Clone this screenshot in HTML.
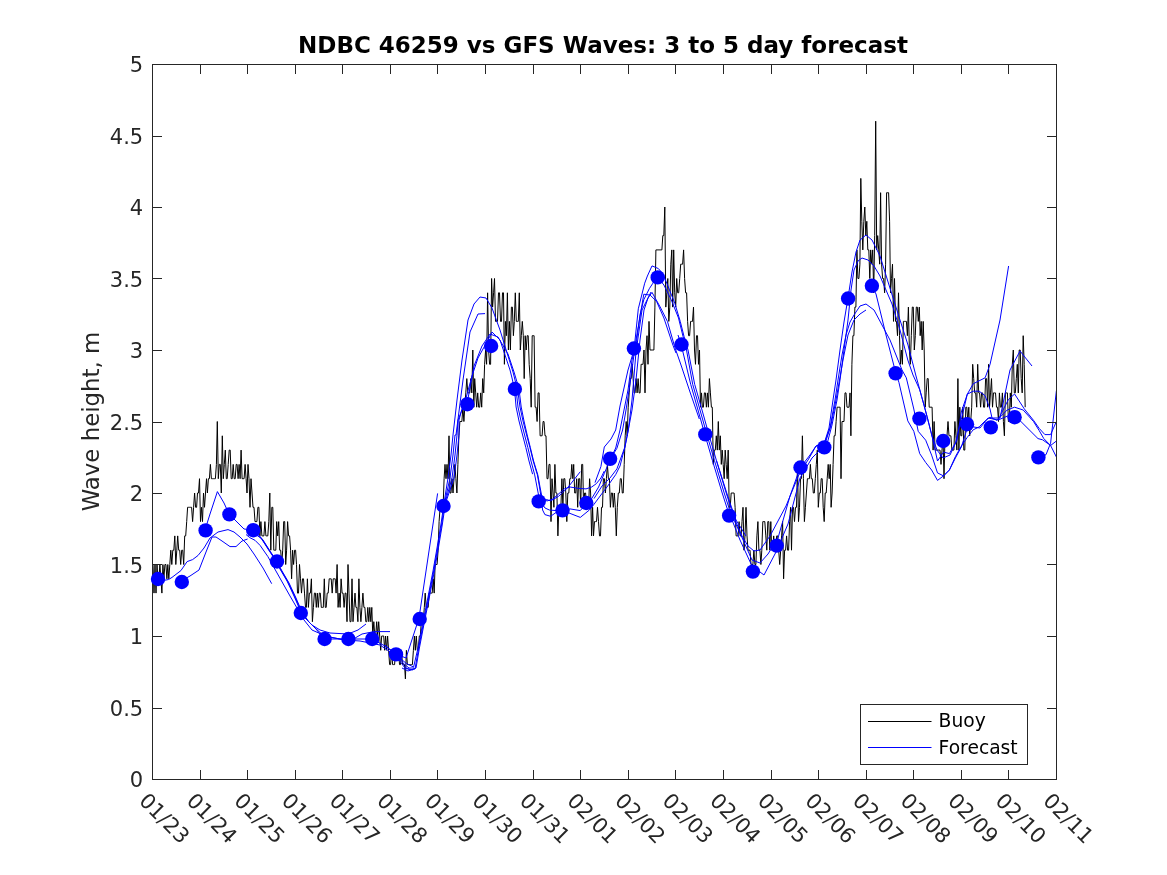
<!DOCTYPE html>
<html><head><meta charset="utf-8"><title>NDBC 46259 vs GFS Waves</title>
<style>
html,body{margin:0;padding:0;background:#fff;}
svg{display:block;will-change:transform;}
text{font-family:'DejaVu Sans', 'Liberation Sans', sans-serif;}
</style></head><body>
<svg width="1167" height="875" viewBox="0 0 1167 875">
<rect width="1167" height="875" fill="#ffffff"/>
<g clip-path="url(#clipax)">
<path d="M152 564.5 153 564.5 154 593.1 155 564.5 156 593.1 157 564.5 157.9 578.8 158.9 578.8 159.9 564.5 160.9 578.8 161.9 593.1 162.9 564.5 163.9 578.8 164.9 564.5 165.9 564.5 166.9 578.8 167.8 564.5 168.8 578.8 169.8 564.5 170.8 550.2 171.8 564.5 172.8 550.2 173.8 550.2 174.8 535.9 175.8 564.5 176.8 550.2 177.7 535.9 178.7 550.2 179.7 550.2 180.7 564.5 181.7 550.2 182.7 550.2 183.7 564.5 184.7 535.9 185.7 535.9 186.7 521.6 187.6 507.3 188.6 507.3 189.6 507.3 190.6 507.3 191.6 507.3 192.6 521.6 193.6 507.3 194.6 493 195.6 507.3 196.6 507.3 197.5 493 198.5 493 199.5 478.7 200.5 521.6 201.5 507.3 202.5 521.6 203.5 493 204.5 507.3 205.5 493 206.5 478.7 207.4 493 208.4 478.7 209.4 478.7 210.4 464.4 211.4 478.7 212.4 478.7 213.4 478.7 214.4 478.7 215.4 478.7 216.4 464.4 217.3 421.5 218.3 478.7 219.3 464.4 220.3 464.4 221.3 493 222.3 435.8 223.3 478.7 224.3 464.4 225.3 450.1 226.3 478.7 227.2 478.7 228.2 464.4 229.2 450.1 230.2 450.1 231.2 478.7 232.2 478.7 233.2 464.4 234.2 478.7 235.2 478.7 236.2 464.4 237.1 464.4 238.1 478.7 239.1 464.4 240.1 478.7 241.1 450.1 242.1 478.7 243.1 478.7 244.1 478.7 245.1 464.4 246.1 478.7 247 493 248 464.4 249 478.7 250 507.3 251 478.7 252 493 253 507.3 254 507.3 255 521.6 256 521.6 256.9 521.6 257.9 507.3 258.9 507.3 259.9 535.9 260.9 521.6 261.9 535.9 262.9 535.9 263.9 535.9 264.9 521.6 265.9 535.9 266.8 535.9 267.8 535.9 268.8 521.6 269.8 493 270.8 550.2 271.8 507.3 272.8 507.3 273.8 550.2 274.8 550.2 275.8 550.2 276.7 521.6 277.7 535.9 278.7 521.6 279.7 550.2 280.7 550.2 281.7 564.5 282.7 550.2 283.7 521.6 284.7 521.6 285.7 564.5 286.6 550.2 287.6 521.6 288.6 535.9 289.6 535.9 290.6 550.2 291.6 578.8 292.6 550.2 293.6 564.5 294.6 550.2 295.6 550.2 296.5 564.5 297.5 593.1 298.5 593.1 299.5 564.5 300.5 578.8 301.5 593.1 302.5 578.8 303.5 578.8 304.5 593.1 305.5 607.4 306.4 607.4 307.4 578.8 308.4 607.4 309.4 593.1 310.4 593.1 311.4 578.8 312.4 621.7 313.4 607.4 314.4 593.1 315.4 593.1 316.3 607.4 317.3 593.1 318.3 607.4 319.3 593.1 320.3 593.1 321.3 607.4 322.3 607.4 323.3 607.4 324.3 578.8 325.3 607.4 326.2 607.4 327.2 593.1 328.2 593.1 329.2 578.8 330.2 578.8 331.2 578.8 332.2 593.1 333.2 578.8 334.2 578.8 335.2 578.8 336.1 593.1 337.1 564.5 338.1 607.4 339.1 593.1 340.1 607.4 341.1 578.8 342.1 593.1 343.1 593.1 344.1 607.4 345.1 593.1 346 593.1 347 621.7 348 564.5 349 593.1 350 621.7 351 621.7 352 578.8 353 621.7 354 607.4 355 593.1 355.9 607.4 356.9 607.4 357.9 621.7 358.9 578.8 359.9 607.4 360.9 621.7 361.9 607.4 362.9 593.1 363.9 607.4 364.9 607.4 365.8 621.7 366.8 621.7 367.8 607.4 368.8 621.7 369.8 607.4 370.8 621.7 371.8 607.4 372.8 636 373.8 621.7 374.8 636 375.7 636 376.7 621.7 377.7 636 378.7 621.7 379.7 636 380.7 650.3 381.7 636 382.7 636 383.7 636 384.7 650.3 385.6 636 386.6 650.3 387.6 636 388.6 650.3 389.6 664.6 390.6 664.6 391.6 650.3 392.6 664.6 393.6 664.6 394.6 664.6 395.5 650.3 396.5 650.3 397.5 650.3 398.5 650.3 399.5 664.6 400.5 664.6 401.5 650.3 402.5 664.6 403.5 664.6 404.5 664.6 405.4 678.9 406.4 650.3 407.4 664.6 408.4 664.6 409.4 664.6 410.4 664.6 411.4 664.6 412.4 664.6 413.4 650.3 414.4 636 415.3 650.3 416.3 636 417.3 650.3 418.3 650.3 419.3 636 420.3 636 421.3 621.7 422.3 621.7 423.3 621.7 424.3 607.4 425.2 593.1 426.2 607.4 427.2 607.4 428.2 607.4 429.2 593.1 430.2 593.1 431.2 593.1 432.2 593.1 433.2 578.8 434.2 593.1 435.1 564.5 436.1 564.5 437.1 564.5 438.1 550.2 439.1 521.6 440.1 507.3 441.1 507.3 442.1 507.3 443.1 507.3 444.1 478.7 445 464.4 446 478.7 447 464.4 448 478.7 449 435.8 450 493 451 493 452 478.7 453 493 454 478.7 454.9 464.4 455.9 478.7 456.9 493 457.9 464.4 458.9 435.8 459.9 421.5 460.9 421.5 461.9 421.5 462.9 407.2 463.9 421.5 464.8 407.2 465.8 392.9 466.8 378.6 467.8 392.9 468.8 392.9 469.8 392.9 470.8 378.6 471.8 392.9 472.8 350 473.8 407.2 474.7 378.6 475.7 392.9 476.7 407.2 477.7 392.9 478.7 407.2 479.7 407.2 480.7 392.9 481.7 407.2 482.7 378.6 483.7 392.9 484.6 364.3 485.6 350 486.6 364.3 487.6 292.8 488.6 350 489.6 364.3 490.6 364.3 491.6 278.5 492.6 307.1 493.6 292.8 494.5 278.5 495.5 321.4 496.5 321.4 497.5 321.4 498.5 292.8 499.5 292.8 500.5 321.4 501.5 321.4 502.5 292.8 503.5 292.8 504.4 364.3 505.4 321.4 506.4 335.7 507.4 292.8 508.4 350 509.4 321.4 510.4 350 511.4 307.1 512.4 307.1 513.4 335.7 514.3 321.4 515.3 292.8 516.3 321.4 517.3 321.4 518.3 321.4 519.3 292.8 520.3 350 521.3 335.7 522.3 321.4 523.3 335.7 524.2 378.6 525.2 335.7 526.2 350 527.2 335.7 528.2 335.7 529.2 364.3 530.2 378.6 531.2 407.2 532.2 335.7 533.2 335.7 534.1 335.7 535.1 407.2 536.1 407.2 537.1 421.5 538.1 392.9 539.1 392.9 540.1 435.8 541.1 435.8 542.1 435.8 543.1 421.5 544 421.5 545 435.8 546 435.8 547 478.7 548 478.7 549 464.4 550 464.4 551 521.6 552 478.7 553 493 553.9 507.3 554.9 464.4 555.9 493 556.9 493 557.9 535.9 558.9 507.3 559.9 507.3 560.9 507.3 561.9 478.7 562.9 507.3 563.8 478.7 564.8 478.7 565.8 493 566.8 521.6 567.8 493 568.8 493 569.8 478.7 570.8 478.7 571.8 464.4 572.8 478.7 573.7 464.4 574.7 493 575.7 493 576.7 478.7 577.7 507.3 578.7 478.7 579.7 478.7 580.7 507.3 581.7 464.4 582.7 464.4 583.6 507.3 584.6 493 585.6 493 586.6 507.3 587.6 507.3 588.6 507.3 589.6 478.7 590.6 493 591.6 535.9 592.6 507.3 593.5 535.9 594.5 521.6 595.5 521.6 596.5 521.6 597.5 507.3 598.5 521.6 599.5 535.9 600.5 535.9 601.5 507.3 602.5 507.3 603.4 478.7 604.4 478.7 605.4 493 606.4 478.7 607.4 464.4 608.4 478.7 609.4 478.7 610.4 507.3 611.4 493 612.4 493 613.3 507.3 614.3 493 615.3 507.3 616.3 535.9 617.3 507.3 618.3 493 619.3 493 620.3 478.7 621.3 478.7 622.3 493 623.2 493 624.2 464.4 625.2 435.8 626.2 421.5 627.2 435.8 628.2 407.2 629.2 392.9 630.2 378.6 631.2 378.6 632.2 364.3 633.1 378.6 634.1 392.9 635.1 392.9 636.1 378.6 637.1 392.9 638.1 378.6 639.1 392.9 640.1 392.9 641.1 364.3 642.1 364.3 643 364.3 644 350 645 392.9 646 350 647 335.7 648 364.3 649 321.4 650 350 651 350 652 350 652.9 350 653.9 350 654.9 307.1 655.9 249.9 656.9 249.9 657.9 249.9 658.9 249.9 659.9 249.9 660.9 249.9 661.9 249.9 662.8 235.6 663.8 235.6 664.8 207 665.8 307.1 666.8 292.8 667.8 278.5 668.8 321.4 669.8 307.1 670.8 264.2 671.8 249.9 672.7 307.1 673.7 249.9 674.7 292.8 675.7 307.1 676.7 278.5 677.7 292.8 678.7 292.8 679.7 278.5 680.7 264.2 681.7 264.2 682.6 264.2 683.6 249.9 684.6 278.5 685.6 292.8 686.6 292.8 687.6 321.4 688.6 335.7 689.6 335.7 690.6 321.4 691.6 321.4 692.5 321.4 693.5 307.1 694.5 350 695.5 364.3 696.5 335.7 697.5 335.7 698.5 364.3 699.5 350 700.5 407.2 701.5 392.9 702.4 407.2 703.4 407.2 704.4 392.9 705.4 392.9 706.4 407.2 707.4 392.9 708.4 407.2 709.4 378.6 710.4 392.9 711.4 407.2 712.3 407.2 713.3 464.4 714.3 450.1 715.3 450.1 716.3 435.8 717.3 450.1 718.3 421.5 719.3 450.1 720.3 435.8 721.3 464.4 722.2 450.1 723.2 464.4 724.2 478.7 725.2 450.1 726.2 464.4 727.2 478.7 728.2 450.1 729.2 507.3 730.2 507.3 731.2 493 732.1 493 733.1 493 734.1 493 735.1 507.3 736.1 535.9 737.1 535.9 738.1 535.9 739.1 521.6 740.1 535.9 741.1 535.9 742 521.6 743 507.3 744 550.2 745 535.9 746 507.3 747 535.9 748 550.2 749 550.2 750 550.2 751 564.5 751.9 564.5 752.9 564.5 753.9 550.2 754.9 564.5 755.9 564.5 756.9 535.9 757.9 521.6 758.9 550.2 759.9 550.2 760.9 564.5 761.8 550.2 762.8 521.6 763.8 521.6 764.8 521.6 765.8 535.9 766.8 550.2 767.8 521.6 768.8 521.6 769.8 550.2 770.8 521.6 771.7 550.2 772.7 550.2 773.7 535.9 774.7 550.2 775.7 550.2 776.7 535.9 777.7 535.9 778.7 550.2 779.7 564.5 780.7 550.2 781.6 535.9 782.6 521.6 783.6 578.8 784.6 550.2 785.6 550.2 786.6 535.9 787.6 550.2 788.6 550.2 789.6 521.6 790.6 507.3 791.5 550.2 792.5 507.3 793.5 507.3 794.5 521.6 795.5 507.3 796.5 507.3 797.5 464.4 798.5 521.6 799.5 507.3 800.5 478.7 801.4 478.7 802.4 435.8 803.4 478.7 804.4 521.6 805.4 507.3 806.4 493 807.4 478.7 808.4 478.7 809.4 478.7 810.4 464.4 811.3 478.7 812.3 478.7 813.3 493 814.3 493 815.3 478.7 816.3 464.4 817.3 450.1 818.3 507.3 819.3 493 820.3 493 821.2 478.7 822.2 478.7 823.2 507.3 824.2 521.6 825.2 493 826.2 493 827.2 478.7 828.2 464.4 829.2 478.7 830.2 464.4 831.1 507.3 832.1 493 833.1 464.4 834.1 435.8 835.1 435.8 836.1 421.5 837.1 407.2 838.1 407.2 839.1 407.2 840.1 407.2 841 478.7 842 421.5 843 421.5 844 421.5 845 392.9 846 392.9 847 407.2 848 407.2 849 407.2 850 392.9 850.9 435.8 851.9 364.3 852.9 335.7 853.9 335.7 854.9 307.1 855.9 307.1 856.9 249.9 857.9 278.5 858.9 278.5 859.9 264.2 860.8 178.4 861.8 221.3 862.8 249.9 863.8 221.3 864.8 207 865.8 235.6 866.8 221.3 867.8 249.9 868.8 249.9 869.8 278.5 870.7 249.9 871.7 264.2 872.7 249.9 873.7 292.8 874.7 235.6 875.7 121.2 876.7 249.9 877.7 235.6 878.7 249.9 879.7 264.2 880.6 192.7 881.6 264.2 882.6 278.5 883.6 278.5 884.6 292.8 885.6 264.2 886.6 192.7 887.6 192.7 888.6 192.7 889.6 221.3 890.5 292.8 891.5 278.5 892.5 264.2 893.5 321.4 894.5 278.5 895.5 321.4 896.5 321.4 897.5 335.7 898.5 292.8 899.5 335.7 900.4 364.3 901.4 350 902.4 364.3 903.4 321.4 904.4 321.4 905.4 321.4 906.4 321.4 907.4 335.7 908.4 307.1 909.4 350 910.3 364.3 911.3 335.7 912.3 307.1 913.3 307.1 914.3 350 915.3 335.7 916.3 307.1 917.3 307.1 918.3 321.4 919.3 307.1 920.2 335.7 921.2 321.4 922.2 350 923.2 321.4 924.2 350 925.2 407.2 926.2 392.9 927.2 378.6 928.2 378.6 929.2 407.2 930.1 407.2 931.1 407.2 932.1 407.2 933.1 450.1 934.1 421.5 935.1 450.1 936.1 450.1 937.1 450.1 938.1 450.1 939.1 450.1 940 450.1 941 464.4 942 450.1 943 435.8 944 478.7 945 435.8 946 435.8 947 435.8 948 421.5 949 435.8 949.9 435.8 950.9 435.8 951.9 450.1 952.9 450.1 953.9 450.1 954.9 421.5 955.9 435.8 956.9 450.1 957.9 378.6 958.9 450.1 959.8 407.2 960.8 435.8 961.8 435.8 962.8 407.2 963.8 450.1 964.8 450.1 965.8 407.2 966.8 407.2 967.8 421.5 968.8 407.2 969.7 435.8 970.7 421.5 971.7 407.2 972.7 364.3 973.7 378.6 974.7 392.9 975.7 392.9 976.7 407.2 977.7 364.3 978.7 392.9 979.6 392.9 980.6 407.2 981.6 392.9 982.6 392.9 983.6 407.2 984.6 407.2 985.6 378.6 986.6 378.6 987.6 407.2 988.6 364.3 989.5 407.2 990.5 392.9 991.5 378.6 992.5 407.2 993.5 392.9 994.5 392.9 995.5 392.9 996.5 407.2 997.5 407.2 998.5 421.5 999.4 392.9 1000.4 407.2 1001.4 407.2 1002.4 392.9 1003.4 421.5 1004.4 435.8 1005.4 392.9 1006.4 392.9 1007.4 392.9 1008.4 421.5 1009.3 421.5 1010.3 392.9 1011.3 407.2 1012.3 364.3 1013.3 350 1014.3 392.9 1015.3 392.9 1016.3 378.6 1017.3 364.3 1018.3 392.9 1019.2 350 1020.2 350 1021.2 378.6 1022.2 392.9 1023.2 335.7 1024.2 364.3 1025.2 407.2" fill="none" stroke="#000" stroke-width="1" stroke-linejoin="miter" stroke-miterlimit="2"/>
<path d="M152 580 158 578.8 165 580.2 168.6 579.5 172 577.4 180.9 570.6 187.1 561.6 192.6 559.6 198 555.5 204 548 210 538 218 532 228 529.6 234 532 240 537 247 544 254 554 263 568 271.7 583.7 M181 581 190 576 199 570 206 552 212 537 216 537 222 541 230 546.6 236 546.6 242 541 247.6 539 M205 530 210 514 217.4 491.6 224 503 229 514 236 521 244 529 253 530 258 534 263 540 270 551 276 560 282 571 289 583 296 598 302 612 309 622 316 629 324 639 348 639 372 639 385 646 396 654 404 664 409 668 414 668 M249 530 253 531.5 261 538 268 549 274 558 280 569 287 581 294 596 300 610 306 619 312 625 320 630 330 633 348 634 358 630 366 624 M251 531 262 539 269 550 275 559 281 570 288 582 295 597 301 611 307 620 314 627 324 636 350 641 362 634 374 631.6 390 631.6 M246 534.5 249.9 537.7 255 540.3 260.2 545.5 267.9 556.6 274.8 569 281 580 290 596 297 608 304 620 312 630 321 634 330 637 345 640 360 641 380 645 396 656 405 668 413 670 M396 654 406 658 419 618 437.6 493.4 M385 645 396 655 406.7 663.7 413.6 667 418 648 423 622 428 597 433 571 437 548 441 524 444.5 500 448 478 451 455 453 435 457 400 462 360 468 320 474 304 480 297 486 298 492 308 500 330 508 356 513 372 515.5 382 517.5 389 520 407 523 421 526.6 435 529.9 447.4 533.2 461 537.4 474.9 539.5 487 541.5 500 542.6 510 544.9 514.6 550.6 516.3 556.3 512.3 562.6 510 570 513.4 580.3 517.4 589.4 510 594 504.3 600.9 495 607.7 486 615.7 474.6 620 466 624.9 447 628.3 430 632 400 636 352 642 310 651 292 M404 667 410 670 415 669 418.7 648 423.7 622 428.7 597 433.7 571 437.7 548 441.7 524 445.2 500 450 478 453 455 455 435 456 435 463 380 470 332 478 314 485 313.6 M402 668 408 671 416 668 419.4 648 424.4 622 429.4 597 434.4 571 438.4 548 442.4 524 445.9 500 452 478 455 455 457 435 458 420 462 410 467 404 474 366 482 346 490 334 498 337 508 354 514 372 517 382 519 389 521.2 407 524 421 527.2 435 530.3 447.4 533.6 461 537.8 474.9 540 487 542.5 500 547 499.7 550.6 500.9 558.6 496.3 567.7 487.7 580.3 471.7 M446.6 500 454 478 457 455 459 435 459 420 463 405 466 398 472 376 478 358 488 340 492 332 500 340 506 358 510 370 512 378 514.5 389 516.1 407 519 421 522.6 435 525.8 447.4 529 461 532.6 474.2 M541 498 547 501 552.9 499 564.3 488.9 570 487 578 488.3 586 488.9 591.7 487 596.3 483.7 600.9 478 604.3 471 M516 389 518 407 521 421 524.6 435 527.8 447.4 531 461 534.7 474.9 537 487 539.5 500 545 508 549.4 510 556.3 510.6 562.6 510 570 508.9 580.3 510.6 586.6 503 591.7 498.6 598.6 487 604.3 473.4 610 460 615.7 448 620 430 624 410 628 390 632 360 636.5 341.7 640.1 314.3 643.8 299.7 649.3 288.7 652.9 283.2 657.5 276.8 663.9 285 671.2 299.7 678.5 318 683 336.3 686.5 350 692.7 384.3 700 410 706.8 434.3 714.4 460.4 724.2 493 729 508 734 520 744 542 752 560 760 563 768 554 778 538 790 496 800 468 810 455 816 446 824 444 830 428 835 400 838 380 842 355 846 335 850 322 854 315 860 306 866 304 874 310 882 325 890 340 896 355 902 370 906.3 377.8 913.8 409 918.2 431.3 925.7 440.2 931.6 455.1 937.5 472.9 943.5 475.9 949.4 470 955.4 458 961.3 447 968 426 973.2 426.9 980 428 988 418 998 420 1008.3 399.7 1014.6 394 1024.3 408.9 1033.5 420.3 1039.2 428.4 1044.9 434.6 1050.6 434.6 1056.4 421.5 M595 482.6 600.9 466.6 604.3 447 611 439 615.7 430 620 406 628 370 634 350 638.3 308.8 644.7 283.2 647.4 276 652 265.9 658.4 268.6 663 274 667.5 285 674.8 303.3 680.3 321.6 684 336.3 688 350 694.7 384.3 702 410 708.8 434.3 716.4 460.4 726.2 493 731 508 736 522 742 536 748 546 754 551 760 550 770 536 786 506 800 472 808 460 816 446 824 444 829 428 833 400 836 380 840 350 844 322 848 298 852 272 856 252 860 240 866 235 872 240 880 256 889 285 900 320 908 345 916 376 924 405 932 436 937 450 943 458 950 455 957 440 961.3 412 967.3 394.2 973.2 383.8 985.1 377.8 990 364.5 1000 320 1008.6 266 M594 498.6 602 486 610 478 616.9 468.9 624.9 447 628.3 430 632 410 636 380 640 340 644 310 648 298 652 292.4 660.2 307 667.5 321.6 674.8 347.2 681 365 690 392 699.3 419 M610.6 458.6 616.9 448.3 622.6 430 626 410 630 384 636 340 643.8 294.2 650.2 295.1 656.6 301.5 663.9 318 673 345.4 676 353 M678 335 681 344 690.7 384.3 698 410 704.8 434.3 712.4 460.4 722.2 493 727 508 732 520 740 540 752 566 764 575 776 552 788 524 800 478 812 458 822 448 826 448 832 425 837 400 840 380 844 350 848 320 851 290 854 270 858 261 862 258 868 260 874 266 880 276 892 304 900 330 907.8 360 913 375 919.7 389.7 927.1 416.5 931.6 434.3 937.5 461 943.5 452.1 949.4 453.6 955.4 443.2 961.3 419.4 967.3 394.2 973.2 391.2 979.2 391.2 985.1 395.7 990 409 992 418 1000 418 1010 370 1020 351 1032 366 M716.4 460.4 722 478 729 500 736 520 746 536 M824 447 831 425 836 400 839.5 380 843 360 848 335 854 320 860 314 866 310 M872 286 876 294 886 335 895.9 373.4 898.9 382.3 907.8 420.9 913.8 431.3 919.7 453.6 925.7 462.5 931.6 470 937.5 480.4 943.5 475.9 949.4 470 955.4 456.6 961.3 446.2 967.3 437.3 973.2 429.8 979.2 426.9 985.1 420.9 990 417.2 996.9 420.3 1007.2 410 1014.6 407.2 1023.2 410 1033.5 421.5 1039.2 430.6 1043.8 438.6 1050.6 445.5 1056.4 457 M998 420 1010 415 1020.9 421.5 1038 438.6 1042.6 439.8 1050.6 445.5 1056.4 441 M1038.6 457.5 1046 454.7 1050.6 443.2 1056.4 390.6" fill="none" stroke="#0000ff" stroke-width="1"/>
</g>
<defs><clipPath id="clipax"><rect x="152" y="64" width="905" height="716"/></clipPath></defs>
<g stroke="#262626" stroke-width="1" fill="none" shape-rendering="crispEdges">
<rect x="152.5" y="64.5" width="904" height="715" fill="none" stroke="#262626" stroke-width="1"/><line x1="152" y1="779.5" x2="162" y2="779.5" /><line x1="1057" y1="779.5" x2="1047" y2="779.5" /><line x1="152" y1="708.5" x2="162" y2="708.5" /><line x1="1057" y1="708.5" x2="1047" y2="708.5" /><line x1="152" y1="636.5" x2="162" y2="636.5" /><line x1="1057" y1="636.5" x2="1047" y2="636.5" /><line x1="152" y1="564.5" x2="162" y2="564.5" /><line x1="1057" y1="564.5" x2="1047" y2="564.5" /><line x1="152" y1="493.5" x2="162" y2="493.5" /><line x1="1057" y1="493.5" x2="1047" y2="493.5" /><line x1="152" y1="422.5" x2="162" y2="422.5" /><line x1="1057" y1="422.5" x2="1047" y2="422.5" /><line x1="152" y1="350.5" x2="162" y2="350.5" /><line x1="1057" y1="350.5" x2="1047" y2="350.5" /><line x1="152" y1="278.5" x2="162" y2="278.5" /><line x1="1057" y1="278.5" x2="1047" y2="278.5" /><line x1="152" y1="207.5" x2="162" y2="207.5" /><line x1="1057" y1="207.5" x2="1047" y2="207.5" /><line x1="152" y1="136.5" x2="162" y2="136.5" /><line x1="1057" y1="136.5" x2="1047" y2="136.5" /><line x1="152" y1="64.5" x2="162" y2="64.5" /><line x1="1057" y1="64.5" x2="1047" y2="64.5" /><line x1="152.5" y1="780" x2="152.5" y2="770" /><line x1="152.5" y1="64" x2="152.5" y2="74" /><line x1="200.5" y1="780" x2="200.5" y2="770" /><line x1="200.5" y1="64" x2="200.5" y2="74" /><line x1="247.5" y1="780" x2="247.5" y2="770" /><line x1="247.5" y1="64" x2="247.5" y2="74" /><line x1="295.5" y1="780" x2="295.5" y2="770" /><line x1="295.5" y1="64" x2="295.5" y2="74" /><line x1="342.5" y1="780" x2="342.5" y2="770" /><line x1="342.5" y1="64" x2="342.5" y2="74" /><line x1="390.5" y1="780" x2="390.5" y2="770" /><line x1="390.5" y1="64" x2="390.5" y2="74" /><line x1="437.5" y1="780" x2="437.5" y2="770" /><line x1="437.5" y1="64" x2="437.5" y2="74" /><line x1="485.5" y1="780" x2="485.5" y2="770" /><line x1="485.5" y1="64" x2="485.5" y2="74" /><line x1="533.5" y1="780" x2="533.5" y2="770" /><line x1="533.5" y1="64" x2="533.5" y2="74" /><line x1="580.5" y1="780" x2="580.5" y2="770" /><line x1="580.5" y1="64" x2="580.5" y2="74" /><line x1="628.5" y1="780" x2="628.5" y2="770" /><line x1="628.5" y1="64" x2="628.5" y2="74" /><line x1="675.5" y1="780" x2="675.5" y2="770" /><line x1="675.5" y1="64" x2="675.5" y2="74" /><line x1="723.5" y1="780" x2="723.5" y2="770" /><line x1="723.5" y1="64" x2="723.5" y2="74" /><line x1="771.5" y1="780" x2="771.5" y2="770" /><line x1="771.5" y1="64" x2="771.5" y2="74" /><line x1="818.5" y1="780" x2="818.5" y2="770" /><line x1="818.5" y1="64" x2="818.5" y2="74" /><line x1="866.5" y1="780" x2="866.5" y2="770" /><line x1="866.5" y1="64" x2="866.5" y2="74" /><line x1="913.5" y1="780" x2="913.5" y2="770" /><line x1="913.5" y1="64" x2="913.5" y2="74" /><line x1="961.5" y1="780" x2="961.5" y2="770" /><line x1="961.5" y1="64" x2="961.5" y2="74" /><line x1="1008.5" y1="780" x2="1008.5" y2="770" /><line x1="1008.5" y1="64" x2="1008.5" y2="74" /><line x1="1056.5" y1="780" x2="1056.5" y2="770" /><line x1="1056.5" y1="64" x2="1056.5" y2="74" />
</g>
<g fill="#0000ff"><circle cx="158" cy="579" r="7.2"/><circle cx="181.8" cy="582" r="7.2"/><circle cx="205.6" cy="530.4" r="7.2"/><circle cx="229.4" cy="514.4" r="7.2"/><circle cx="253.2" cy="530.2" r="7.2"/><circle cx="277" cy="561.5" r="7.2"/><circle cx="300.8" cy="613" r="7.2"/><circle cx="324.6" cy="639" r="7.2"/><circle cx="348.4" cy="639" r="7.2"/><circle cx="372.2" cy="639" r="7.2"/><circle cx="396" cy="654.4" r="7.2"/><circle cx="419.7" cy="619" r="7.2"/><circle cx="443.5" cy="506" r="7.2"/><circle cx="467.3" cy="404.2" r="7.2"/><circle cx="491.1" cy="346" r="7.2"/><circle cx="514.9" cy="389" r="7.2"/><circle cx="538.7" cy="501.4" r="7.2"/><circle cx="562.5" cy="510.4" r="7.2"/><circle cx="586.3" cy="503" r="7.2"/><circle cx="610.1" cy="458.8" r="7.2"/><circle cx="633.9" cy="348.5" r="7.2"/><circle cx="657.7" cy="277.4" r="7.2"/><circle cx="681.5" cy="344.5" r="7.2"/><circle cx="705.3" cy="434.4" r="7.2"/><circle cx="729.1" cy="515.6" r="7.2"/><circle cx="752.9" cy="571.6" r="7.2"/><circle cx="776.7" cy="545.6" r="7.2"/><circle cx="800.5" cy="467.5" r="7.2"/><circle cx="824.3" cy="447.4" r="7.2"/><circle cx="848.1" cy="298.5" r="7.2"/><circle cx="871.9" cy="285.8" r="7.2"/><circle cx="895.6" cy="373.3" r="7.2"/><circle cx="919.4" cy="418.6" r="7.2"/><circle cx="943.2" cy="441" r="7.2"/><circle cx="967" cy="424.2" r="7.2"/><circle cx="990.8" cy="427.4" r="7.2"/><circle cx="1014.6" cy="417.2" r="7.2"/><circle cx="1038.4" cy="457.4" r="7.2"/></g>
<g font-size="21" fill="#262626">
<text x="143.2" y="787.1" text-anchor="end">0</text><text x="143.2" y="715.6" text-anchor="end">0.5</text><text x="143.2" y="644.1" text-anchor="end">1</text><text x="143.2" y="572.6" text-anchor="end">1.5</text><text x="143.2" y="501.1" text-anchor="end">2</text><text x="143.2" y="429.6" text-anchor="end">2.5</text><text x="143.2" y="358.1" text-anchor="end">3</text><text x="143.2" y="286.6" text-anchor="end">3.5</text><text x="143.2" y="215.1" text-anchor="end">4</text><text x="143.2" y="143.6" text-anchor="end">4.5</text><text x="143.2" y="72.1" text-anchor="end">5</text>
<text transform="translate(137.9,802.1) rotate(45)">01/23</text><text transform="translate(185.5,802.1) rotate(45)">01/24</text><text transform="translate(233.1,802.1) rotate(45)">01/25</text><text transform="translate(280.6,802.1) rotate(45)">01/26</text><text transform="translate(328.2,802.1) rotate(45)">01/27</text><text transform="translate(375.8,802.1) rotate(45)">01/28</text><text transform="translate(423.4,802.1) rotate(45)">01/29</text><text transform="translate(471.0,802.1) rotate(45)">01/30</text><text transform="translate(518.5,802.1) rotate(45)">01/31</text><text transform="translate(566.1,802.1) rotate(45)">02/01</text><text transform="translate(613.7,802.1) rotate(45)">02/02</text><text transform="translate(661.3,802.1) rotate(45)">02/03</text><text transform="translate(708.8,802.1) rotate(45)">02/04</text><text transform="translate(756.4,802.1) rotate(45)">02/05</text><text transform="translate(804.0,802.1) rotate(45)">02/06</text><text transform="translate(851.6,802.1) rotate(45)">02/07</text><text transform="translate(899.2,802.1) rotate(45)">02/08</text><text transform="translate(946.7,802.1) rotate(45)">02/09</text><text transform="translate(994.3,802.1) rotate(45)">02/10</text><text transform="translate(1041.9,802.1) rotate(45)">02/11</text>
</g>
<text x="603" y="52.5" text-anchor="middle" font-size="23" font-weight="bold" fill="#000">NDBC 46259 vs GFS Waves: 3 to 5 day forecast</text>
<text transform="translate(98.5,421.5) rotate(-90)" text-anchor="middle" font-size="22.85" fill="#262626">Wave height, m</text>
<g>
<rect x="860.5" y="704.5" width="167" height="60" fill="#fff" stroke="#262626" stroke-width="1" shape-rendering="crispEdges"/>
<line x1="868" y1="721.5" x2="931.5" y2="721.5" stroke="#000" stroke-width="1"/>
<line x1="868" y1="747.5" x2="931.5" y2="747.5" stroke="#0000ff" stroke-width="1"/>
<text x="938.6" y="727.4" font-size="18.7" fill="#000">Buoy</text>
<text x="938.6" y="754.4" font-size="18.7" fill="#000">Forecast</text>
</g>
</svg>
</body></html>
